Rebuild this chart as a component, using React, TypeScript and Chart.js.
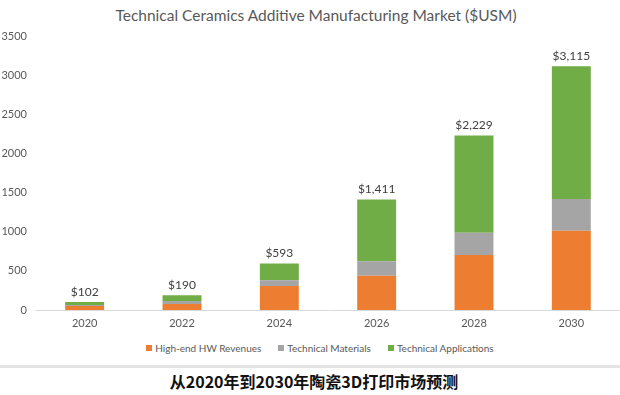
import React, { useEffect, useRef } from "react";
import { Chart, registerables } from "chart.js";

Chart.register(...registerables);

const categories = ["2020", "2022", "2024", "2026", "2028", "2030"];
const hwRevenues = [50, 77, 306, 438, 703, 1013];
const materials = [15, 38, 73, 184, 285, 405];
const applications = [37, 75, 214, 789, 1241, 1697];
const totalLabels = ["$102", "$190", "$593", "$1,411", "$2,229", "$3,115"];
const seriesNames = ["High-end HW Revenues", "Technical Materials", "Technical Applications"];
const seriesColors = ["#ED7D31", "#A5A5A5", "#70AD47"];
const yTicks = [0, 500, 1000, 1500, 2000, 2500, 3000, 3500];
const titleText = "Technical Ceramics Additive Manufacturing Market ($USM)";
const captionText = "从2020年到2030年陶瓷3D打印市场预测";

const FONT = "Lato, 'Open Sans', sans-serif";

export default function App() {
  const ref = useRef<HTMLCanvasElement | null>(null);

  useEffect(() => {
    if (!ref.current) return;
    const totalsPlugin = {
      id: "totals",
      afterDatasetsDraw(chart: any) {
        const ctx = chart.ctx;
        const meta = chart.getDatasetMeta(2);
        ctx.save();
        ctx.font = `12px ${FONT}`;
        ctx.fillStyle = "#404040";
        ctx.textAlign = "center";
        ctx.textBaseline = "bottom";
        meta.data.forEach((bar: any, i: number) => {
          ctx.fillText(totalLabels[i], bar.x, bar.y - 4);
        });
        ctx.restore();
      },
    };
    const chart = new Chart(ref.current, {
      type: "bar",
      data: {
        labels: categories,
        datasets: [hwRevenues, materials, applications].map((d, i) => ({
          label: seriesNames[i],
          data: d,
          backgroundColor: seriesColors[i],
          borderWidth: 0,
          categoryPercentage: 1,
          barPercentage: 0.4,
        })),
      },
      options: {
        responsive: false,
        animation: false,
        devicePixelRatio: 1,
        layout: { padding: { top: 36, left: 0, right: 0, bottom: 0 } },
        plugins: {
          legend: { display: false },
          title: { display: false },
          tooltip: { enabled: false },
        },
        scales: {
          x: {
            stacked: true,
            grid: { display: false, drawTicks: false },
            border: { display: true, color: "#d9d9d9", width: 1 },
            ticks: { color: "#595959", font: { size: 11, family: FONT }, padding: 7 },
            afterFit: (a: any) => {
              a.height = 25;
            },
          },
          y: {
            stacked: true,
            min: 0,
            max: 3500,
            afterBuildTicks: (a: any) => {
              a.ticks = yTicks.map((v) => ({ value: v }));
            },
            grid: { display: false, drawTicks: false },
            border: { display: false },
            ticks: {
              color: "#595959",
              font: { size: 11, family: FONT },
              padding: 9,
              callback: (v: any) => String(v),
            },
            afterFit: (a: any) => {
              a.width = 36;
            },
          },
        },
      },
      plugins: [totalsPlugin],
    });
    return () => chart.destroy();
  }, []);

  return (
    <div style={{ position: "fixed", left: 0, top: 0, width: 620, height: 395, background: "#fff", overflow: "hidden" }}>
      <div
        style={{
          position: "absolute",
          left: 0,
          top: 4,
          width: 632,
          textAlign: "center",
          fontFamily: FONT,
          fontSize: 15.5,
          color: "#595959",
          lineHeight: "22px",
        }}
      >
        {titleText}
      </div>
      <canvas ref={ref} width={620} height={335} style={{ position: "absolute", left: 0, top: 0 }} />
      <div
        style={{
          position: "absolute",
          left: 0,
          top: 341,
          width: 640,
          display: "flex",
          justifyContent: "center",
          gap: 17,
          fontFamily: FONT,
          fontSize: 10,
          color: "#595959",
          lineHeight: "14px",
        }}
      >
        {seriesNames.map((n, i) => (
          <div key={n} style={{ display: "flex", alignItems: "center", gap: 3 }}>
            <span style={{ width: 6, height: 6, background: seriesColors[i], display: "inline-block" }} />
            <span>{n}</span>
          </div>
        ))}
      </div>
      <div style={{ position: "absolute", left: 0, top: 365, width: 620, height: 3, background: "#e4e4e4" }} />
      <div
        style={{
          position: "absolute",
          left: 0,
          top: 371,
          width: 628,
          textAlign: "center",
          fontFamily: "'Noto Sans CJK SC', sans-serif",
          fontWeight: 700,
          fontSize: 16,
          color: "#111",
          lineHeight: "20px",
        }}
      >
        {captionText}
      </div>
    </div>
  );
}
